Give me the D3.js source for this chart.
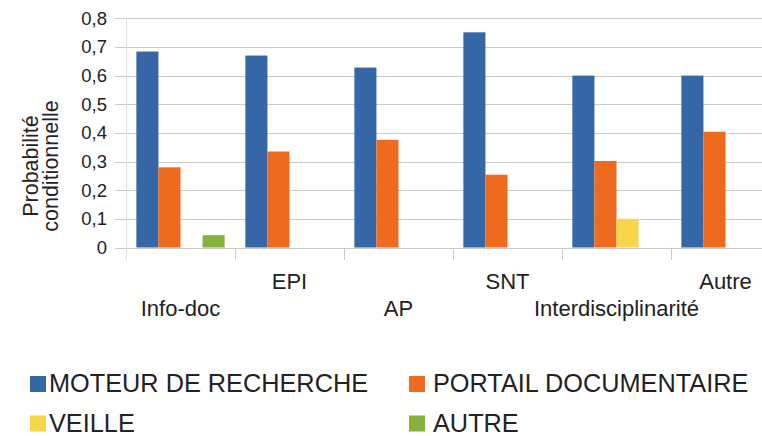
<!DOCTYPE html>
<html>
<head>
<meta charset="utf-8">
<script src="https://cdn.jsdelivr.net/npm/d3@7"></script>
<style>
  html, body { margin: 0; padding: 0; background: #fff; }
  svg { display: block; font-family: "Liberation Sans", Arial, sans-serif; }
</style>
</head>
<body>
<svg id="chart" width="762" height="436"></svg>
<script>
// Categories (activities) and the four series of conditional probabilities
const categories = ["Info-doc", "EPI", "AP", "SNT", "Interdisciplinarité", "Autre"];
const seriesNames = ["MOTEUR DE RECHERCHE", "PORTAIL DOCUMENTAIRE", "VEILLE", "AUTRE"];
const moteur  = [0.684, 0.670, 0.628, 0.751, 0.600, 0.600];
const portail = [0.280, 0.335, 0.376, 0.254, 0.302, 0.404];
const veille  = [0, 0, 0, 0, 0.100, 0];
const autre   = [0.043, 0, 0, 0, 0, 0];
const yTicks = [0, 0.1, 0.2, 0.3, 0.4, 0.5, 0.6, 0.7, 0.8];
const yTickLabels = ["0", "0,1", "0,2", "0,3", "0,4", "0,5", "0,6", "0,7", "0,8"];
const yTitle = ["Probabilité", "conditionnelle"];

const seriesValues = [moteur, portail, veille, autre];
const colors = ["#3566a6", "#ee6a1f", "#f6d54a", "#86b23c"];

const svg = d3.select("#chart");
const W = 762;

// Scales: the plot runs past the right edge of the canvas, so the last group is cut
const x = d3.scaleBand().domain(categories).range([126, 126 + 6 * 109]).padding(0);
const xs = d3.scaleBand().domain(seriesNames).range([0, x.bandwidth()])
  .paddingInner(0).paddingOuter(0.47);
const y = d3.scaleLinear().domain([0, 0.8]).range([247.5, 18.3]);

const grid = "#cbcbcb";

// Horizontal gridlines (extended a little to the left as tick marks)
svg.append("g").selectAll("line").data(yTicks).join("line")
  .attr("x1", 115).attr("x2", W)
  .attr("y1", d => Math.round(y(d)) + 0.5).attr("y2", d => Math.round(y(d)) + 0.5)
  .attr("stroke", grid).attr("stroke-width", 1);

// Vertical axis line
svg.append("line")
  .attr("x1", 126.5).attr("x2", 126.5)
  .attr("y1", y(0.8)).attr("y2", 260)
  .attr("stroke", "#dedede").attr("stroke-width", 1);

// Category boundary ticks under the baseline
const bounds = categories.map(c => x(c)).concat([x.range()[1]]);
svg.append("g").selectAll("line").data(bounds.slice(1)).join("line")
  .attr("x1", d => Math.round(d) + 0.5).attr("x2", d => Math.round(d) + 0.5)
  .attr("y1", y(0)).attr("y2", 260)
  .attr("stroke", grid).attr("stroke-width", 1);

// Y tick labels
svg.append("g").selectAll("text").data(yTicks).join("text")
  .attr("x", 107).attr("y", d => y(d))
  .attr("dy", "0.35em")
  .attr("text-anchor", "end")
  .attr("font-size", 18.5).attr("fill", "#222")
  .text((d, i) => yTickLabels[i]);

// Y axis title, two rotated lines
const title = svg.append("text")
  .attr("transform", "translate(38,166) rotate(-90)")
  .attr("text-anchor", "middle")
  .attr("font-size", 21.5).attr("fill", "#222");
yTitle.forEach((t, i) => {
  title.append("tspan").attr("x", 0).attr("dy", i === 0 ? 0 : 20).text(t);
});

// Bars
const groups = svg.append("g").selectAll("g").data(categories).join("g")
  .attr("transform", c => `translate(${x(c)},0)`);
groups.selectAll("rect")
  .data((c, ci) => seriesNames.map((s, si) => ({ s, si, v: seriesValues[si][ci] })))
  .join("rect")
  .attr("x", d => xs(d.s))
  .attr("width", xs.bandwidth())
  .attr("y", d => y(d.v))
  .attr("height", d => y(0) - y(d.v))
  .attr("fill", d => colors[d.si]);

// Category labels, staggered on two rows
const xAxis = svg.append("g")
  .attr("transform", `translate(0,${y(0)})`)
  .call(d3.axisBottom(x).tickSize(0).tickSizeOuter(0));
xAxis.select(".domain").remove();
xAxis.selectAll(".tick text")
  .attr("font-family", "\"Liberation Sans\", Arial, sans-serif")
  .attr("font-size", 22).attr("fill", "#222")
  .attr("dy", null)
  .attr("y", (d, i) => i % 2 === 0 ? 316 - y(0) : 289 - y(0));

// Legend in a 2 x 2 grid
const legendCols = [{ sq: 30, tx: 49 }, { sq: 409, tx: 433 }];
const legendRows = [392, 431.5];
const legend = svg.append("g").selectAll("g").data(seriesNames).join("g")
  .attr("transform", (d, i) => `translate(0,${legendRows[Math.floor(i / 2)]})`);
legend.append("rect")
  .attr("x", (d, i) => legendCols[i % 2].sq).attr("y", -16)
  .attr("width", 16).attr("height", 16)
  .attr("fill", (d, i) => colors[i]);
legend.append("text")
  .attr("x", (d, i) => legendCols[i % 2].tx).attr("y", 0)
  .attr("font-size", 25.3).attr("fill", "#222")
  .text(d => d);
</script>
</body>
</html>
